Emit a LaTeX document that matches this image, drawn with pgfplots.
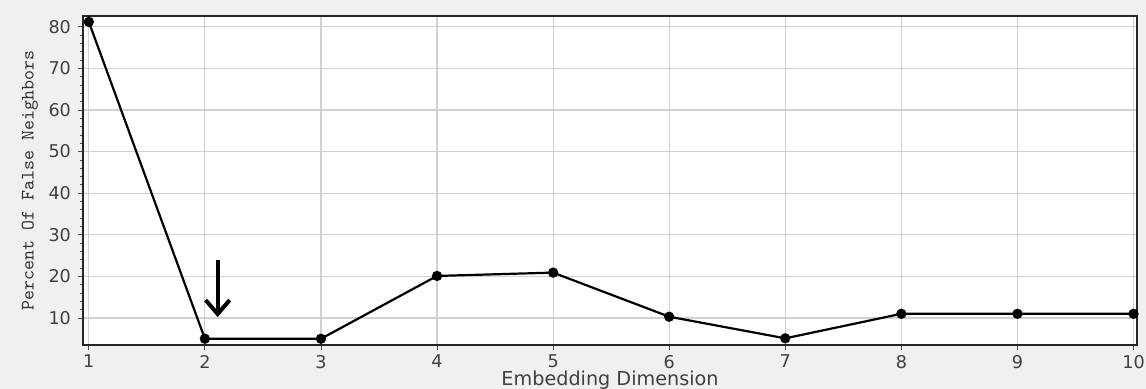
\documentclass[border=0pt]{standalone}
\usepackage{pgfplots}
\pgfplotsset{compat=1.18}
\usepackage{fontspec}
\setmainfont{DejaVu Sans}
\usetikzlibrary{arrows.meta}
\begin{document}
\begin{tikzpicture}[x=1pt,y=1pt]
\useasboundingbox (0,0) rectangle (573,194.5);
\clip (0,0) rectangle (573,194.5);
\fill[black!6] (0,0) rectangle (573,194.5);
\begin{axis}[at={(41.5pt,22pt)}, anchor=south west, scale only axis,
  width=527pt, height=164.5pt,
  xmin=0.95, xmax=10.03, ymin=3.5, ymax=82.6,
  xtick={1,...,10}, ytick={10,20,...,80}, minor y tick num=4,
  /pgf/number format/assume math mode=true,
  grid=major, major grid style={draw=black!18, line width=0.6pt},
  axis background/.style={fill=white},
  axis line style={line width=0.9pt, black!85},
  tick align=outside, tick pos=left, major tick length=2.5pt, minor tick length=1.5pt,
  every tick/.style={black!70, line width=0.4pt},
  ticklabel style={font=\fontsize{8.8}{10}\selectfont, text=black!75},
  xticklabel style={yshift=1pt},
  xlabel={Embedding Dimension},
  ylabel={\ttfamily Percent Of False Neighbors},
  xlabel style={at={([yshift=-17.5pt]axis description cs:0.5,0)}, anchor=center,
    font=\fontsize{9.6}{11}\selectfont, text=black!75},
  ylabel style={at={([xshift=-26.5pt]axis description cs:0,0.5)}, anchor=center,
    font=\fontsize{9.5}{11}\selectfont, text=black!80},
]
\addplot[black, line width=1.1pt, mark=*, mark size=2pt]
  coordinates {(1,81.2)(2,5)(3,5)(4,20.1)(5,20.9)(6,10.3)(7,5.1)(8,11)(9,11)(10,11)};
\draw[line width=2pt, -{Straight Barb[length=7pt, width=12pt, line width=2pt]}] (axis cs:2.11,24) -- (axis cs:2.11,10.2);
\end{axis}
\end{tikzpicture}
\end{document}
